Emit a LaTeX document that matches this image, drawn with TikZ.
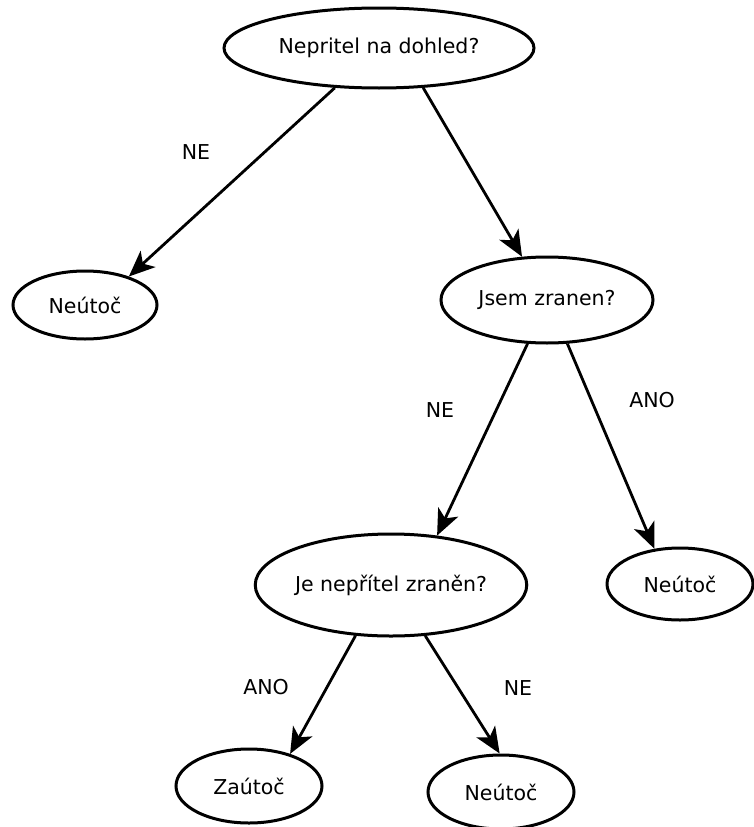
\documentclass[tikz,border=0pt]{standalone}
\usepackage{fontspec}
\setmainfont{DejaVu Sans}
\usetikzlibrary{shapes.geometric,arrows.meta}
\begin{document}
\begin{tikzpicture}[x=1pt,y=-1pt,
  el/.style={draw, ellipse, line width=3pt, inner sep=0pt, fill=white, font=\fontsize{20.5}{24}\selectfont},
  arr/.style={line width=2.8pt, -{Stealth[length=26pt,width=22pt,inset=7pt]}},
  lab/.style={font=\fontsize{20.5}{24}\selectfont}]
\useasboundingbox (0,0) rectangle (754,827);
\node[el, minimum width=310pt, minimum height=80pt] (root) at (379,48) {Nepritel na dohled?};
\node[el, minimum width=144pt, minimum height=68pt] (L) at (85,305) {Neútoč};
\node[el, minimum width=212pt, minimum height=86pt] (J) at (547,300) {Jsem zranen?};
\node[el, minimum width=254pt, minimum height=102pt] (Je) at (391,585) {Je nepřítel zraněn?};
\node[el, minimum width=146pt, minimum height=72pt] (R) at (680,584) {Neútoč};
\node[el, minimum width=146pt, minimum height=74pt] (Z) at (249,786) {Zaútoč};
\node[el, minimum width=146pt, minimum height=74pt] (B) at (501,792) {Neútoč};

\draw[arr] (root.222) -- (L.33);
\draw[arr] (root.318) -- (J.120);
\draw[arr] (J.246) -- (Je.47);
\draw[arr] (J.295) -- (R.126);
\draw[arr] (Je.235) -- (Z.38);
\draw[arr] (Je.304) -- (B.92);

\node[lab] (l1) at (196,152) {NE};
\node[lab] (l2) at (440,410) {NE};
\node[lab] (l3) at (652,400) {ANO};
\node[lab] (l4) at (266,687) {ANO};
\node[lab] (l5) at (518,688) {NE};
\end{tikzpicture}
\end{document}
